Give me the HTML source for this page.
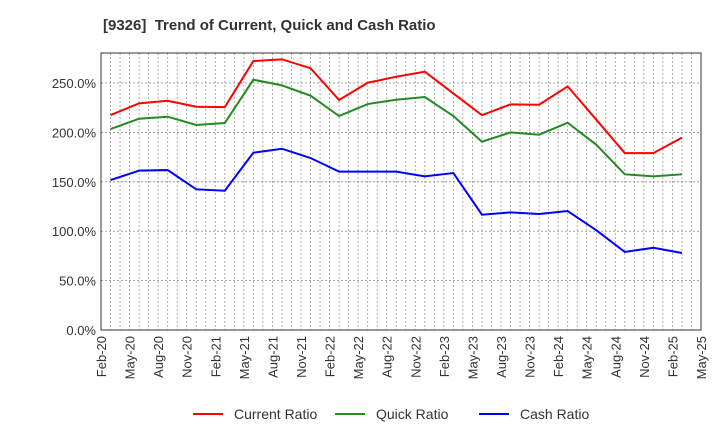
<!DOCTYPE html>
<html><head><meta charset="utf-8"><style>
body{margin:0;background:#fff;font-family:"Liberation Sans",sans-serif;}
svg{display:block}
</style></head><body>
<svg id="chart" width="720" height="440" xmlns="http://www.w3.org/2000/svg" font-family="Liberation Sans, sans-serif">
<text x="103" y="30" font-size="15" font-weight="bold" fill="#333">[9326] &#160;Trend of Current, Quick and Cash Ratio</text>
<g id="grid"></g><g id="axes"></g><g id="series"></g>
<g>
<line x1="193" y1="414" x2="223" y2="414" stroke="#f00" stroke-width="2"/>
<text x="234" y="419" font-size="14" fill="#333">Current Ratio</text>
<line x1="335" y1="414" x2="365" y2="414" stroke="#228b22" stroke-width="2"/>
<text x="376" y="419" font-size="14" fill="#333">Quick Ratio</text>
<line x1="479" y1="414" x2="509" y2="414" stroke="#00f" stroke-width="2"/>
<text x="520" y="419" font-size="14" fill="#333">Cash Ratio</text>
</g>
</svg>
<script>
const tickLabels=["Feb-20","May-20","Aug-20","Nov-20","Feb-21","May-21","Aug-21","Nov-21","Feb-22","May-22","Aug-22","Nov-22","Feb-23","May-23","Aug-23","Nov-23","Feb-24","May-24","Aug-24","Nov-24","Feb-25","May-25"];
const yTicks=[0,50,100,150,200,250];
const currentRatio=[217.6,229.4,232.1,226,225.6,272.3,274,265,232.8,250.3,256.4,261.5,239.5,217.5,228.4,228,246.6,213,179,179,194.7];
const quickRatio=[203.4,213.9,215.9,207.5,209.5,253.4,247.6,237.2,216.6,228.7,233.1,235.8,216.6,190.6,200,197.7,209.8,187.6,157.6,155.5,157.6];
const cashRatio=[151.8,161.3,161.9,142.4,141,179.5,183.5,174.1,160.3,160.3,160.3,155.5,158.9,116.7,119.1,117.4,120.4,101,79,83.3,77.9];
const L=101,R=701,T=53,B=330,yMax=280.4;
const monthW=(R-L)/63;
function xMonth(m){return L+m*monthW;}
function xPoint(i){return xMonth(i*3+1);}
function y(v){return B-(v/yMax)*(B-T);}
const NS="http://www.w3.org/2000/svg";
function mk(tag,attrs,parent){const e=document.createElementNS(NS,tag);for(const k in attrs)e.setAttribute(k,attrs[k]);parent.appendChild(e);return e;}
const grid=document.getElementById('grid'),axes=document.getElementById('axes'),series=document.getElementById('series');
for(let m=1;m<63;m++){const l=mk('line',{x1:xMonth(m),x2:xMonth(m),y1:T,y2:B,stroke:'#999','stroke-width':0.8,'stroke-dasharray':'2,2'},grid);

}
yTicks.forEach(v=>{if(v>0){const l=mk('line',{x1:L,x2:R,y1:y(v),y2:y(v),stroke:'#888','stroke-width':0.8,'stroke-dasharray':'2,2'},grid);

}
const t=mk('text',{x:L-5,y:y(v)+5,'font-size':13,fill:'#333','text-anchor':'end'},axes);t.textContent=v.toFixed(1)+'%';

});
tickLabels.forEach((s,i)=>{const x=xMonth(i*3);const t=mk('text',{x:x+5,y:B+6,'font-size':13,fill:'#333','text-anchor':'end',transform:`rotate(-90 ${x+5} ${B+6})`},axes);t.textContent=s;

});
const frame=mk('rect',{x:L,y:T,width:R-L,height:B-T,fill:'none',stroke:'#333','stroke-width':1},axes);


[[currentRatio,'#f00','current-ratio-line'],[quickRatio,'#228b22','quick-ratio-line'],[cashRatio,'#00f','cash-ratio-line']].forEach(([d,c,n])=>{
const p=mk('polyline',{points:d.map((v,i)=>xPoint(i)+','+y(v)).join(' '),fill:'none',stroke:c,'stroke-width':2},series);

});
</script>
</body></html>
